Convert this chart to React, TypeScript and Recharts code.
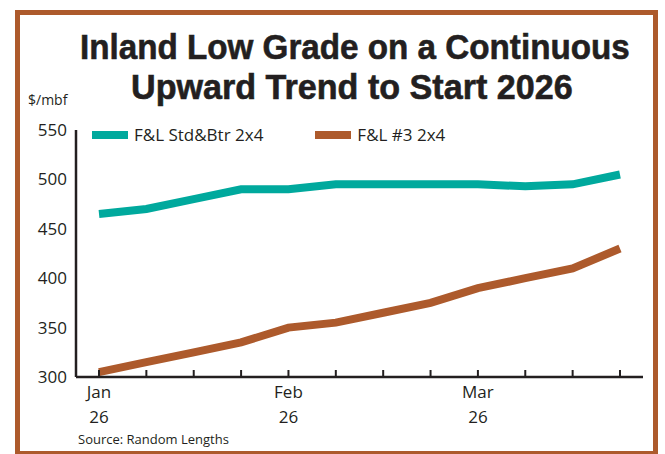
import { useLayoutEffect, useRef, useState } from 'react';
import { LineChart, Line, XAxis, YAxis } from 'recharts';

const weeks = ['Jan 2', 'Jan 9', 'Jan 16', 'Jan 23', 'Jan 30', 'Feb 6', 'Feb 13', 'Feb 20', 'Feb 27', 'Mar 6', 'Mar 13', 'Mar 20'];
const monthLabels = ['Jan', '', '', '', 'Feb', '', '', '', 'Mar', '', '', ''];
const yearLabels = ['26', '', '', '', '26', '', '', '', '26', '', '', ''];
const stdBtr = [465, 470, 480, 490, 490, 495, 495, 495, 495, 493, 495, 505];
const no3 = [305, 315, 325, 335, 350, 355, 365, 375, 390, 400, 410, 430];
const yTicks = [300, 350, 400, 450, 500, 550];
const titleLines = ['Inland Low Grade on a Continuous', 'Upward Trend to Start 2026'];

const TEAL = '#00a99d';
const BROWN = '#ad5a2c';
const INK = '#231f20';
const FONT = '"Open Sans", "Noto Sans", sans-serif';

const data = weeks.map((w, i) => ({ week: w, stdBtr: stdBtr[i], no3: no3[i] }));

const seriesInfo = [
  { key: 'stdBtr', name: 'F&L Std&Btr 2x4', color: TEAL },
  { key: 'no3', name: 'F&L #3 2x4', color: BROWN },
];

function XTick(props: any) {
  const { x, y, index } = props;
  return (
    <g>
      <line x1={x} x2={x} y1={y - 7} y2={y} stroke={INK} strokeWidth={2} />
      <text x={x} y={y + 21} textAnchor="middle" fontSize={17} fill={INK} fontFamily={FONT}>
        {monthLabels[index]}
      </text>
      <text x={x} y={y + 46} textAnchor="middle" fontSize={17} fill={INK} fontFamily={FONT}>
        {yearLabels[index]}
      </text>
    </g>
  );
}

// title face in the original is a condensed bold; squeeze a regular bold to the same width
function TitleLine({ text, left, top, width }: { text: string; left: number; top: number; width: number }) {
  const ref = useRef<HTMLSpanElement>(null);
  const [scale, setScale] = useState(1);
  useLayoutEffect(() => {
    if (ref.current) setScale(width / ref.current.offsetWidth);
  }, [width]);
  return (
    <span
      ref={ref}
      style={{
        position: 'absolute',
        left,
        top,
        whiteSpace: 'nowrap',
        fontFamily: '"Liberation Sans", Arial, sans-serif',
        fontWeight: 700,
        fontSize: 35.5,
        lineHeight: 1,
        color: INK,
        WebkitTextStroke: `0.6px ${INK}`,
        transformOrigin: '0 0',
        transform: `scaleX(${scale})`,
      }}
    >
      {text}
    </span>
  );
}

export default function App() {
  return (
    <div style={{ position: 'fixed', left: 0, top: 0, width: 665, height: 454, overflow: 'hidden', background: '#fff' }}>
      <div
        style={{
          position: 'absolute',
          left: 15,
          top: 10,
          width: 643,
          height: 446,
          border: `5px solid ${BROWN}`,
          boxSizing: 'border-box',
        }}
      />
      <TitleLine text={titleLines[0]} left={80} top={30} width={550} />
      <TitleLine text={titleLines[1]} left={131} top={70} width={442} />
      <div style={{ position: 'absolute', left: 28, top: 90, fontFamily: FONT, fontSize: 14, color: INK }}>$/mbf</div>
      <div style={{ position: 'absolute', left: 78, top: 430, fontFamily: FONT, fontSize: 13, color: INK }}>
        Source: Random Lengths
      </div>
      <div style={{ position: 'absolute', left: 0, top: 0 }}>
        <LineChart width={665} height={454} data={data} margin={{ top: 130, right: 22, bottom: 0, left: 0 }}>
          <XAxis
            dataKey="week"
            padding={{ left: 23, right: 23 }}
            axisLine={{ stroke: INK, strokeWidth: 2.5 }}
            tickLine={false}
            tickSize={0}
            tickMargin={0}
            interval={0}
            tick={<XTick />}
            height={77}
          />
          <YAxis
            domain={[300, 550]}
            ticks={yTicks}
            width={76}
            axisLine={{ stroke: INK, strokeWidth: 2.5 }}
            tickLine={false}
            tickSize={0}
            tickMargin={9}
            tick={{ fill: INK, fontSize: 17, fontFamily: FONT }}
          />
          {seriesInfo.map((s) => (
            <Line
              key={s.key}
              dataKey={s.key}
              name={s.name}
              stroke={s.color}
              strokeWidth={8}
              dot={false}
              activeDot={false}
              type="linear"
              isAnimationActive={false}
            />
          ))}
        </LineChart>
      </div>
      <div
        style={{
          position: 'absolute',
          left: 92,
          top: 123,
          display: 'flex',
          fontFamily: FONT,
          fontSize: 17,
          lineHeight: '24px',
          color: INK,
        }}
      >
        {seriesInfo.map((s, i) => (
          <div key={s.key} style={{ display: 'flex', alignItems: 'center', marginRight: i === 0 ? 52 : 0 }}>
            <div style={{ width: 36, height: 8, background: s.color, marginRight: 6 }} />
            <span>{s.name}</span>
          </div>
        ))}
      </div>
    </div>
  );
}
